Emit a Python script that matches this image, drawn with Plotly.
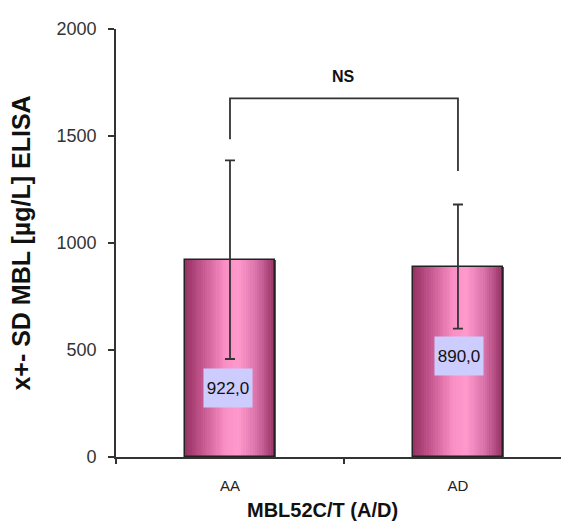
import plotly.graph_objects as go

# ---- data ----
categories = ["AA", "AD"]
means = [922.0, 890.0]
sd = [464.0, 290.0]
value_labels = ["922,0", "890,0"]
y_ticks = [0, 500, 1000, 1500, 2000]
sig_text = "NS"

# ---- layout constants ----
FONT = "Arial, Liberation Sans, sans-serif"
BAR_W = 0.395
N_STRIPS = 40
label_y = [324, 474]
label_xshift = [-2, 1]
bracket_y = [1485, 1676, 1676, 1337]
ns_y = 1777

W, H = 561, 521
ML, MT, MB = 116, 29, 64

stops = [(0.0, (150, 48, 98)), (0.2, (198, 88, 144)), (0.45, (250, 144, 198)),
         (0.6, (255, 153, 204)), (0.8, (214, 112, 168)), (1.0, (150, 48, 98))]


def grad(t):
    for (t0, c0), (t1, c1) in zip(stops[:-1], stops[1:]):
        if t0 <= t <= t1:
            f = (t - t0) / (t1 - t0)
            c = [round(a + (b - a) * f) for a, b in zip(c0, c1)]
            return "rgb(%d,%d,%d)" % tuple(c)
    return "rgb(%d,%d,%d)" % stops[-1][1]


xpos = list(range(len(categories)))

fig = go.Figure()
sw = BAR_W / N_STRIPS
for i in range(N_STRIPS):
    t = (i + 0.5) / N_STRIPS
    fig.add_trace(go.Bar(
        x=xpos, y=means,
        width=sw * 1.6, offset=-BAR_W / 2 + i * sw,
        marker=dict(color=grad(t), line=dict(width=0)),
        hoverinfo="skip", showlegend=False,
    ))

# outline + error bars
fig.add_trace(go.Bar(
    x=xpos, y=means, width=BAR_W, offset=-BAR_W / 2,
    marker=dict(color="rgba(0,0,0,0)", line=dict(color="#222222", width=1.5)),
    error_y=dict(type="data", array=sd, visible=True, color="#333333",
                 thickness=1.8, width=5),
    showlegend=False,
))

# significance bracket
fig.add_trace(go.Scatter(
    x=[xpos[0], xpos[0], xpos[1], xpos[1]],
    y=bracket_y, mode="lines",
    line=dict(color="#333333", width=1.8),
    hoverinfo="skip", showlegend=False,
))

plot_w = W - ML
plot_h = H - MT - MB

annotations = []
for xp, lab, ly, xs in zip(xpos, value_labels, label_y, label_xshift):
    annotations.append(dict(
        x=xp, y=ly, xref="x", yref="y", text=lab, showarrow=False,
        font=dict(family=FONT, size=17, color="#111111"),
        bgcolor="#CCCCFF", width=46, height=36, borderpad=1, xshift=xs,
    ))
annotations.append(dict(
    x=(xpos[0] + xpos[1]) / 2, y=ns_y, xref="x", yref="y",
    text="<b>%s</b>" % sig_text,
    showarrow=False, font=dict(family=FONT, size=16, color="#111111"),
))
# x-axis title (screen centre ~ (322, 510))
annotations.append(dict(
    x=(322 - ML) / plot_w, y=-(510 - (H - MB)) / plot_h,
    xref="paper", yref="paper", yanchor="middle",
    text="<b>MBL52C/T (A/D)</b>", showarrow=False,
    font=dict(family=FONT, size=20, color="#111111"),
))

fig.update_layout(
    width=W, height=H,
    margin=dict(l=ML, r=0, t=MT, b=MB, pad=0),
    paper_bgcolor="white", plot_bgcolor="white",
    barmode="overlay", bargap=0,
    font=dict(family=FONT, color="#333333"),
    annotations=annotations,
)

fig.update_xaxes(
    range=[-0.5, 1.452],
    tickvals=xpos, ticktext=categories,
    showline=True, linecolor="#333333", linewidth=1.8,
    ticks="", ticklabelstandoff=14,
    minor=dict(tickvals=[-0.5, 0.5], ticks="outside", ticklen=5,
               tickcolor="#333333", tickwidth=1.5, showgrid=False),
    tickfont=dict(family=FONT, size=15, color="#222222"),
    showgrid=False, zeroline=False, automargin=False,
)
fig.update_yaxes(
    range=[0, 2000], tickvals=y_ticks,
    showline=True, linecolor="#333333", linewidth=1.8,
    ticks="outside", ticklen=6, tickcolor="#333333", tickwidth=1.5,
    ticklabelstandoff=8,
    tickfont=dict(family=FONT, size=18, color="#333333"),
    showgrid=False, zeroline=False, automargin=False,
    title=dict(text="<b>x+- SD MBL [µg/L] ELISA</b>",
               font=dict(family=FONT, size=25, color="#111111"), standoff=19),
)

fig.write_html(
    "out.html",
    config={"displayModeBar": False},
    post_script="document.body.style.margin='0px';document.body.style.overflow='hidden';",
)
